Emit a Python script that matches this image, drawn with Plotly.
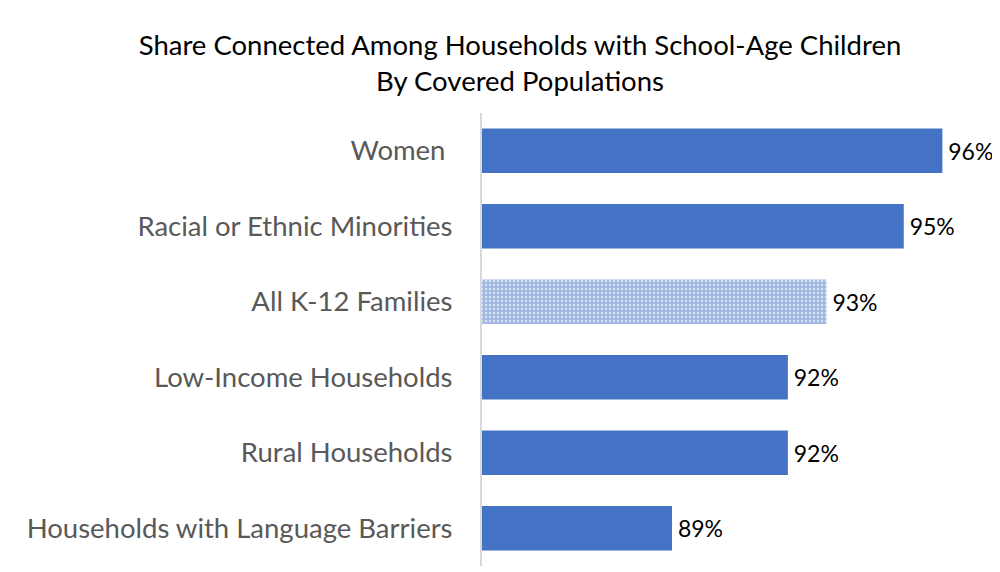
import plotly.graph_objects as go

categories = ["Women ", "Racial or Ethnic Minorities", "All K-12 Families",
              "Low-Income Households", "Rural Households",
              "Households with Language Barriers"]
values = [0.96, 0.95, 0.93, 0.92, 0.92, 0.89]
labels = ["96%", "95%", "93%", "92%", "92%", "89%"]
patterned = [False, False, True, False, False, False]

blue = "#4472C4"
FONT = "Lato, Open Sans, sans-serif"

def pick(flag):
    return [v if p == flag else None for v, p in zip(values, patterned)]

def pick_text(flag):
    return ["\u2009" + t if p == flag else "" for t, p in zip(labels, patterned)]

common = dict(
    y=categories, orientation="h", textposition="outside", cliponaxis=False,
    constraintext="none", width=0.59, hoverinfo="skip",
    textfont=dict(family=FONT, size=23, color="#000000"),
)

fig = go.Figure()
fig.add_trace(go.Bar(x=pick(False), text=pick_text(False),
                     marker=dict(color=blue, line=dict(width=0)), **common))
fig.add_trace(go.Bar(x=pick(True), text=pick_text(True),
                     marker=dict(color="#FFFFFF", line=dict(width=0),
                                 pattern=dict(shape=".", fgcolor=blue, bgcolor="#FFFFFF",
                                              size=4, solidity=0.8, fillmode="overlay")),
                     **common))

fig.update_layout(
    width=1000, height=572,
    barmode="overlay",
    paper_bgcolor="white", plot_bgcolor="white",
    margin=dict(l=474, r=27, t=105, b=14),
    title=dict(
        text="Share Connected Among Households with School-Age Children<br>By Covered Populations",
        x=0.512, xanchor="center", y=0.918, yanchor="middle",
        font=dict(family=FONT, size=27.5, color="#000000"),
    ),
    showlegend=False,
    xaxis=dict(range=[0.8408, 0.97], visible=False, showgrid=False, zeroline=False),
    yaxis=dict(
        autorange="reversed", showline=True, linecolor="#D9D9D9", linewidth=2,
        ticks="", ticklabelstandoff=22, showgrid=False,
        tickfont=dict(family=FONT, size=27.5, color="#595959"),
    ),
)

fig.write_html("out.html")
